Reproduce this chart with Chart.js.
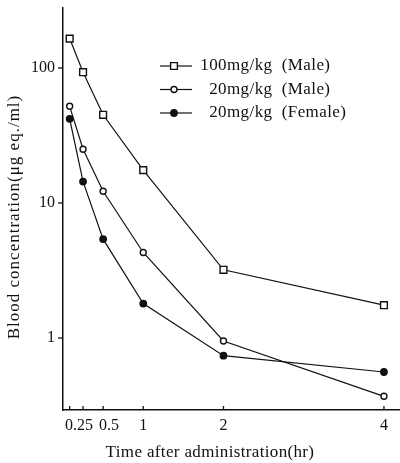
<!DOCTYPE html>
<html>
<head>
<meta charset="utf-8">
<script src="https://cdn.jsdelivr.net/npm/chart.js@4"></script>
<style>
  html, body { margin: 0; padding: 0; background: #fff; }
  #wrap { width: 400px; height: 463px; }
</style>
</head>
<body>
<div id="wrap"><canvas id="chart-blood"></canvas></div>
<script>
// values (log scale)
const times = [0.083, 0.25, 0.5, 1, 2, 4];
const male100 = [165, 93, 45, 17.5, 3.2, 1.75];
const male20 = [52, 25, 12.2, 4.3, 0.95, 0.37];
const female20 = [42, 14.4, 5.4, 1.8, 0.74, 0.56];
const seriesLabels = ['100mg/kg  (Male)', '20mg/kg  (Male)', '20mg/kg  (Female)'];
const xTicks = [0.083, 0.25, 0.5, 1, 2, 4];
const xTickLabels = ['', '0.25  ', '   0.5', '1', '2', '4'];
const yTicks = [1, 10, 100];

const ink = '#111';
const serif = '"Liberation Serif", "DejaVu Serif", serif';

function pts(vals) {
  return times.map((t, i) => ({ x: t, y: vals[i] }));
}

function line(ctx, x1, y1, x2, y2) {
  ctx.beginPath();
  ctx.moveTo(x1, y1);
  ctx.lineTo(x2, y2);
  ctx.stroke();
}

// ticks (x inward, y outward), legend and axis titles
const overlay = {
  id: 'overlay',
  afterDraw(chart) {
    const { ctx, chartArea } = chart;
    const x = chart.scales.x, y = chart.scales.y;
    ctx.save();
    ctx.strokeStyle = ink;
    ctx.lineWidth = 1.3;
    xTicks.forEach(v => {
      const px = x.getPixelForValue(v);
      line(ctx, px, chartArea.bottom, px, chartArea.bottom - 4);
    });
    yTicks.forEach(v => {
      const py = y.getPixelForValue(v);
      line(ctx, chartArea.left, py, chartArea.left - 5, py);
    });

    // legend
    ctx.font = '17px ' + serif;
    ctx.letterSpacing = '0.4px';
    ctx.fillStyle = ink;
    ctx.textBaseline = 'middle';
    chart.data.datasets.forEach((ds, i) => {
      const yy = 66 + i * 23.5;
      ctx.lineWidth = 1.2;
      line(ctx, 160, yy, 192, yy);
      ctx.lineWidth = ds.pointBorderWidth;
      ctx.fillStyle = ds.pointBackgroundColor;
      ctx.beginPath();
      if (ds.pointStyle === 'rect') {
        const s = Math.SQRT1_2 * ds.pointRadius;
        ctx.rect(174 - s, yy - s, 2 * s, 2 * s);
      } else {
        ctx.arc(174, yy, ds.pointRadius, 0, Math.PI * 2);
      }
      ctx.fill();
      ctx.stroke();
      const k = ds.label.indexOf('mg');
      ctx.fillStyle = ink;
      ctx.textAlign = 'right';
      ctx.fillText(ds.label.slice(0, k), 227, yy);
      ctx.textAlign = 'left';
      ctx.fillText(ds.label.slice(k), 227, yy);
    });

    // axis titles
    ctx.font = '17px ' + serif;
    ctx.textAlign = 'center';
    ctx.letterSpacing = '0.35px';
    ctx.fillText('Time after administration(hr)', 210, 453);
    ctx.letterSpacing = '1px';
    ctx.translate(15, 217);
    ctx.rotate(-Math.PI / 2);
    ctx.fillText('Blood concentration(\u03bcg eq./ml)', 0, 0);
    ctx.restore();
  }
};

const dsBase = {
  borderColor: ink,
  borderWidth: 1.2,
  pointBorderColor: ink,
  pointBorderWidth: 1.4,
  tension: 0,
  clip: false
};

new Chart(document.getElementById('chart-blood'), {
  type: 'line',
  data: {
    datasets: [
      { ...dsBase, label: seriesLabels[0], data: pts(male100), pointStyle: 'rect', pointRadius: 4.8, pointBackgroundColor: '#fff' },
      { ...dsBase, label: seriesLabels[1], data: pts(male20), pointStyle: 'circle', pointRadius: 3, pointBackgroundColor: '#fff' },
      { ...dsBase, label: seriesLabels[2], data: pts(female20), pointStyle: 'circle', pointRadius: 3.2, pointBackgroundColor: ink }
    ]
  },
  options: {
    responsive: true,
    maintainAspectRatio: false,
    animation: false,
    layout: { autoPadding: false, padding: { top: 8, right: 0, left: 0, bottom: 0 } },
    plugins: {
      legend: { display: false },
      tooltip: { enabled: false }
    },
    scales: {
      x: {
        type: 'linear',
        min: 0,
        max: 4.2,
        afterFit: s => { s.height = 53; s.paddingLeft = 0; s.paddingRight = 0; },
        afterBuildTicks: s => { s.ticks = xTicks.map(v => ({ value: v })); },
        grid: { drawOnChartArea: false, drawTicks: false },
        border: { display: true, color: ink, width: 1.5 },
        ticks: {
          autoSkip: false,
          maxRotation: 0,
          padding: 6,
          color: ink,
          font: { family: serif, size: 16 },
          callback: (v, i) => xTickLabels[i]
        }
      },
      y: {
        type: 'logarithmic',
        min: 0.293,
        max: 278,
        afterFit: s => { s.width = 63; s.paddingTop = 0; s.paddingBottom = 0; },
        afterBuildTicks: s => { s.ticks = yTicks.map(v => ({ value: v })); },
        grid: { drawOnChartArea: false, drawTicks: false },
        border: { display: true, color: ink, width: 1.5 },
        ticks: {
          padding: 8,
          color: ink,
          font: { family: serif, size: 16 },
          callback: v => String(v)
        }
      }
    }
  },
  plugins: [overlay]
});
</script>
</body>
</html>
